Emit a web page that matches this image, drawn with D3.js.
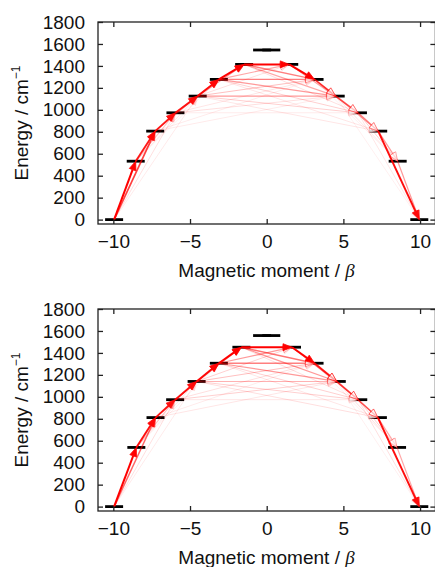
<!DOCTYPE html>
<html>
<head>
<meta charset="utf-8">
<script src="https://cdn.jsdelivr.net/npm/d3@7"></script>
<style>
  body { margin: 0; background: #fff; }
  svg { display: block; font-family: "Liberation Sans", Arial, sans-serif; }
</style>
</head>
<body>
<svg id="chart" width="435" height="567"></svg>
<script>
// doublet levels: ground (0) up to the top pair (7); left side = -moment, right = +moment
var energies1 = [0, 532, 806, 973, 1125, 1277, 1414, 1545];
var moments1 = [9.95, 8.54, 7.27, 5.95, 4.5, 3.12, 1.47, 0.3];
var energies2 = [0, 539, 811, 974, 1140, 1306, 1452, 1558];
var moments2 = [9.95, 8.5, 7.25, 5.97, 4.57, 3.12, 1.65, 0.3];

// state index: 0..7 left side (level = index), 8..15 right side (level = 15 - index)
// [from, to, relative strength]
var arrows1 = [
  [0, 1, 1], [0, 2, 0.75], [0, 3, 0.15], [0, 4, 0.1],
  [1, 2, 0.9], [1, 3, 0.25], [1, 4, 0.12], [1, 5, 0.08],
  [2, 3, 0.9], [2, 4, 0.3], [2, 5, 0.12],
  [3, 4, 0.9], [3, 5, 0.3], [3, 6, 0.15],
  [4, 5, 0.95], [4, 6, 0.35],
  [5, 6, 1],
  [6, 9, 1], [6, 10, 0.5], [6, 11, 0.35], [6, 12, 0.15],
  [5, 9, 0.35], [5, 10, 0.5], [5, 11, 0.4], [5, 12, 0.2], [5, 13, 0.12],
  [4, 9, 0.15], [4, 10, 0.25], [4, 11, 0.4], [4, 12, 0.2], [4, 13, 0.12],
  [3, 10, 0.12], [3, 11, 0.15], [3, 12, 0.1],
  [2, 10, 0.1], [2, 11, 0.1],
  [9, 10, 1], [9, 11, 0.35], [9, 12, 0.2],
  [10, 11, 0.75], [10, 12, 0.3], [10, 13, 0.15], [10, 14, 0.08],
  [11, 12, 0.55], [11, 13, 0.25], [11, 14, 0.12], [11, 15, 0.08],
  [12, 13, 0.5], [12, 14, 0.2], [12, 15, 0.12],
  [13, 14, 0.4], [13, 15, 0.95],
  [14, 15, 0.4]
];
var arrows2 = [
  [0, 1, 1], [0, 2, 0.6], [0, 3, 0.15], [0, 4, 0.1],
  [1, 2, 0.95], [1, 3, 0.25], [1, 4, 0.12], [1, 5, 0.08],
  [2, 3, 0.9], [2, 4, 0.3], [2, 5, 0.15],
  [3, 4, 0.9], [3, 5, 0.35], [3, 6, 0.15],
  [4, 5, 0.95], [4, 6, 0.35],
  [5, 6, 1],
  [6, 9, 1], [6, 10, 0.55], [6, 11, 0.4], [6, 12, 0.15],
  [5, 9, 0.4], [5, 10, 0.5], [5, 11, 0.4], [5, 12, 0.2], [5, 13, 0.12],
  [4, 9, 0.2], [4, 10, 0.25], [4, 11, 0.3], [4, 12, 0.2], [4, 13, 0.15],
  [3, 10, 0.15], [3, 11, 0.2], [3, 12, 0.12],
  [2, 10, 0.1], [2, 11, 0.12],
  [9, 10, 1], [9, 11, 0.45], [9, 12, 0.2],
  [10, 11, 0.85], [10, 12, 0.3], [10, 13, 0.15], [10, 14, 0.08],
  [11, 12, 0.65], [11, 13, 0.25], [11, 14, 0.15], [11, 15, 0.08],
  [12, 13, 0.6], [12, 14, 0.2], [12, 15, 0.15],
  [13, 14, 0.35], [13, 15, 0.95],
  [14, 15, 0.35]
];

var xTicks = [-10, -5, 0, 5, 10];
var yTicks = [0, 200, 400, 600, 800, 1000, 1200, 1400, 1600, 1800];

var svg = d3.select("#chart");
var left = 98, right = 435.4;

function drawPanel(top, bottom, energies, moments, arrows) {
  var x = d3.scaleLinear().domain([-11, 11]).range([left, right]);
  var y = d3.scaleLinear().domain([-40, 1800]).range([bottom, top]);
  var g = svg.append("g");

  function stateX(s) {
    return s < 8 ? x(-moments[s]) : x(moments[15 - s]);
  }
  function stateY(s) {
    return s < 8 ? y(energies[s]) : y(energies[15 - s]);
  }

  // energy level bars
  var states = d3.range(16);
  g.selectAll(".level")
    .data(states)
    .enter().append("line")
    .attr("class", "level")
    .attr("x1", function (s) { return stateX(s) - 9; })
    .attr("x2", function (s) { return stateX(s) + 9; })
    .attr("y1", stateY)
    .attr("y2", stateY)
    .attr("stroke", "#000")
    .attr("stroke-width", 2.8);

  // arrows, weakest first; strong ones get filled heads, weaker ones open heads
  var sorted = arrows.slice().sort(function (a, b) { return a[2] - b[2]; });
  sorted.forEach(function (a) {
    var x1 = stateX(a[0]), y1 = stateY(a[0]);
    var x2 = stateX(a[1]), y2 = stateY(a[1]);
    var w = a[2];
    var len = Math.hypot(x2 - x1, y2 - y1);
    var ux = (x2 - x1) / len, uy = (y2 - y1) / len;
    var hl = 9, hw = 3.5;
    var bx = x2 - ux * hl, by = y2 - uy * hl;
    var filled = w >= 0.9 || a[1] < 8;
    g.append("line")
      .attr("x1", x1).attr("y1", y1)
      .attr("x2", filled ? bx : x2).attr("y2", filled ? by : y2)
      .attr("stroke", "#ff0000")
      .attr("stroke-opacity", w)
      .attr("stroke-width", 0.7 + 1.3 * w);
    g.append("path")
      .attr("d", "M" + x2 + "," + y2 +
        "L" + (bx - uy * hw) + "," + (by + ux * hw) +
        "L" + (bx + uy * hw) + "," + (by - ux * hw) + "Z")
      .attr("fill", filled ? "#ff0000" : "#fff")
      .attr("fill-opacity", filled ? w : 0.6)
      .attr("stroke", "#ff0000")
      .attr("stroke-opacity", w)
      .attr("stroke-width", 0.8);
  });

  // axes, ticks inward on all sides
  var fmt = d3.format("d");
  var xb = g.append("g")
    .attr("transform", "translate(0," + bottom + ")")
    .call(d3.axisBottom(x).tickValues(xTicks).tickFormat(fmt).tickSizeInner(-5).tickSizeOuter(0).tickPadding(11));
  var xt = g.append("g")
    .attr("transform", "translate(0," + top + ")")
    .call(d3.axisTop(x).tickValues(xTicks).tickFormat("").tickSizeInner(-5).tickSizeOuter(0));
  var yl = g.append("g")
    .attr("transform", "translate(" + left + ",0)")
    .call(d3.axisLeft(y).tickValues(yTicks).tickFormat(fmt).tickSizeInner(-5).tickSizeOuter(0).tickPadding(13));
  var yr = g.append("g")
    .attr("transform", "translate(" + right + ",0)")
    .call(d3.axisRight(y).tickValues(yTicks).tickFormat("").tickSizeInner(-5).tickSizeOuter(0));

  [xb, xt, yl, yr].forEach(function (ax) {
    ax.select(".domain").remove();
    ax.selectAll("line").attr("stroke", "#222").attr("stroke-width", 1.3);
    ax.selectAll("text")
      .attr("fill", "#111")
      .style("font-size", "19px")
      .style("font-family", "'Liberation Sans', Arial, sans-serif");
  });

  g.append("rect")
    .attr("x", left).attr("y", top)
    .attr("width", right - left).attr("height", bottom - top)
    .attr("fill", "none")
    .attr("stroke", "#222")
    .attr("stroke-width", 1.3);

  // axis titles
  var xl = g.append("text")
    .attr("x", 266.5)
    .attr("y", bottom + 53)
    .attr("text-anchor", "middle")
    .style("font-size", "19px")
    .attr("fill", "#111");
  xl.append("tspan").text("Magnetic moment / ");
  xl.append("tspan").text("β")
    .style("font-style", "italic")
    .style("font-family", "'Liberation Serif', 'DejaVu Serif', serif");

  var yt = g.append("text")
    .attr("transform", "translate(28," + ((top + bottom) / 2) + ") rotate(-90)")
    .attr("text-anchor", "middle")
    .style("font-size", "19px")
    .attr("fill", "#111");
  yt.append("tspan").text("Energy / cm");
  yt.append("tspan").text("−1")
    .attr("dy", -8)
    .style("font-size", "12px");
}

drawPanel(22, 224, energies1, moments1, arrows1);
drawPanel(309, 511, energies2, moments2, arrows2);
</script>
</body>
</html>
